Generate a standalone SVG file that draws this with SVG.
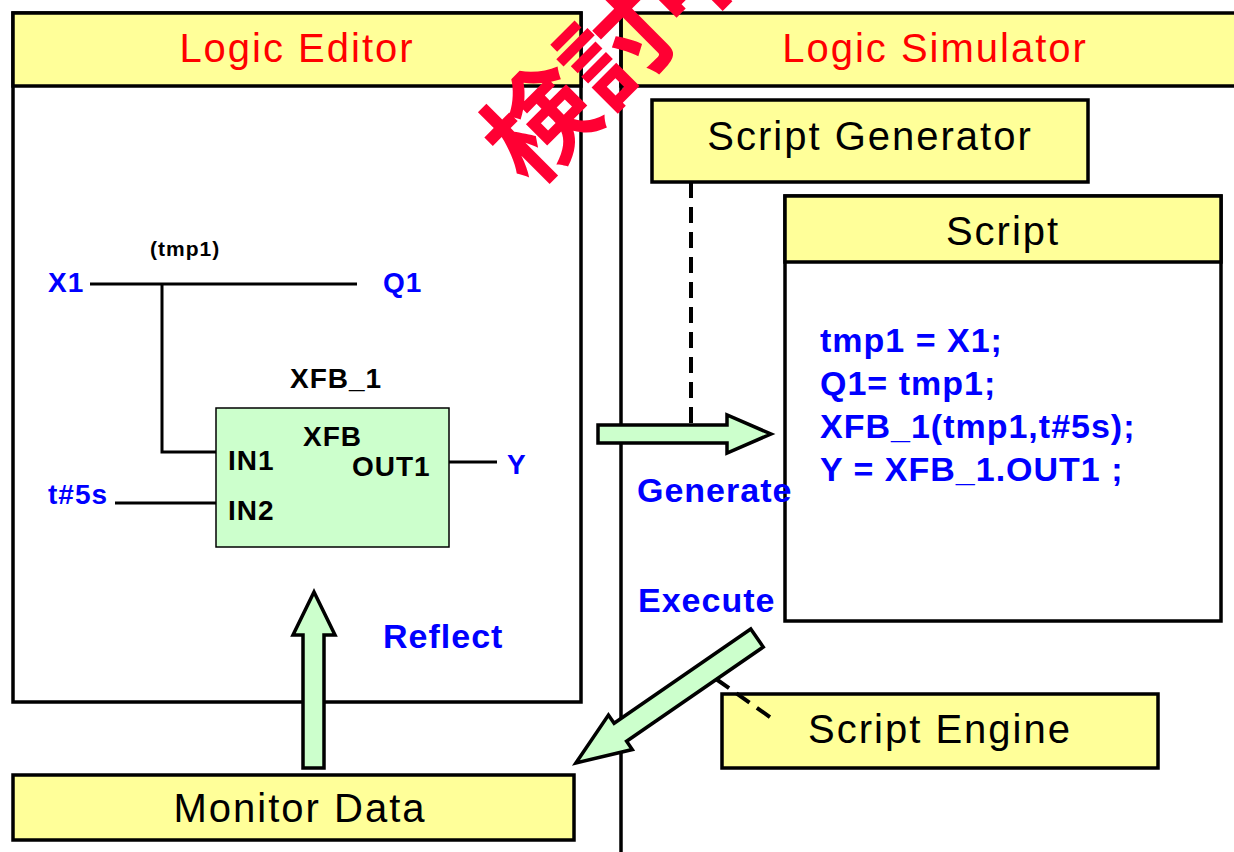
<svg xmlns="http://www.w3.org/2000/svg" width="1234" height="852" viewBox="0 0 1234 852">
<style>
.title{font-family:"Liberation Sans",Arial,sans-serif;font-size:40px;letter-spacing:2px;text-anchor:middle}
.red{fill:#ff0000}
.blk{fill:#000}
.blue{font-family:"Liberation Sans",Arial,sans-serif;font-size:34px;font-weight:bold;letter-spacing:1px;fill:#0000ff}
.lbl{font-family:"Liberation Sans",Arial,sans-serif;font-size:28px;font-weight:bold;letter-spacing:1px}
.box{fill:#ffff99;stroke:#000;stroke-width:3.5}
.frame{fill:#fff;stroke:#000;stroke-width:3.5}
.wire{stroke:#000;stroke-width:3;fill:none}
.arrow{fill:#ccffcc;stroke:#000;stroke-width:3.5;stroke-linejoin:miter}
.dash{stroke:#000;stroke-width:4;stroke-dasharray:16 9;fill:none}
.wm{font-family:"Noto Sans CJK JP","Noto Sans CJK SC",sans-serif;font-size:108px;font-weight:bold;fill:#ff0033}
</style>

<g id="logic-editor">
  <rect class="frame" x="13" y="13" width="568" height="689"/>
  <rect class="box" x="13" y="13" width="568" height="73"/>
  <text class="title red" x="297" y="62">Logic Editor</text>
</g>

<g id="logic-simulator">
  <rect class="box" x="621" y="13" width="640" height="73"/>
  <line x1="621" y1="13" x2="621" y2="852" stroke="#000" stroke-width="3.5"/>
  <text class="title red" x="935" y="62">Logic Simulator</text>
</g>

<g id="ladder">
  <text class="lbl" x="150" y="256" style="font-size:21px">(tmp1)</text>
  <text class="lbl" x="48" y="292" fill="#0000ff">X1</text>
  <text class="lbl" x="383" y="292" fill="#0000ff">Q1</text>
  <text class="lbl" x="48" y="504" fill="#0000ff">t#5s</text>
  <text class="lbl" x="507" y="474" fill="#0000ff">Y</text>
  <line class="wire" x1="90" y1="284" x2="357" y2="284"/>
  <polyline class="wire" points="162,284 162,452 216,452"/>
  <line class="wire" x1="115" y1="503" x2="216" y2="503"/>
  <line class="wire" x1="449" y1="462" x2="497" y2="462"/>
</g>

<g id="xfb-block">
  <text class="lbl" x="290" y="388">XFB_1</text>
  <rect x="216" y="408" width="233" height="139" fill="#ccffcc" stroke="#000" stroke-width="1.5"/>
  <text class="lbl" x="303" y="446">XFB</text>
  <text class="lbl" x="228" y="470">IN1</text>
  <text class="lbl" x="352" y="476">OUT1</text>
  <text class="lbl" x="228" y="520">IN2</text>
</g>

<g id="script-generator">
  <rect class="box" x="652" y="100" width="436" height="82"/>
  <text class="title blk" x="870" y="150">Script Generator</text>
</g>

<g id="script">
  <rect class="frame" x="785" y="196" width="436" height="425"/>
  <rect class="box" x="785" y="196" width="436" height="66"/>
  <text class="title blk" x="1003" y="245">Script</text>
  <text class="blue" x="820" y="352">tmp1 = X1;</text>
  <text class="blue" x="820" y="395">Q1= tmp1;</text>
  <text class="blue" x="820" y="438">XFB_1(tmp1,t#5s);</text>
  <text class="blue" x="820" y="481">Y = XFB_1.OUT1 ;</text>
</g>

<g id="script-engine">
  <rect class="box" x="722" y="694" width="436" height="74"/>
  <text class="title blk" x="940" y="743">Script Engine</text>
</g>

<g id="monitor-data">
  <rect class="box" x="13" y="775" width="561" height="65"/>
  <text class="title blk" x="300" y="822">Monitor Data</text>
</g>

<g id="connectors">
  <line class="dash" x1="691" y1="182" x2="691" y2="425"/>
  <polygon class="arrow" points="598,425 727,425 727,415 771,434 727,453 727,443 598,443"/>
  <text class="blue" x="637" y="502">Generate</text>
  <g transform="translate(757,638) rotate(145.4)">
    <polygon class="arrow" points="0,-11 166,-11 166,-21 220,0 166,21 166,11 0,11"/>
  </g>
  <line class="dash" x1="716" y1="679" x2="777" y2="722" stroke-dasharray="14 10"/>
  <text class="blue" x="638" y="612">Execute</text>
  <polygon class="arrow" points="303,768 303,635 293,635 314,592 335,635 324,635 324,768"/>
  <text class="blue" x="383" y="648">Reflect</text>
</g>

<g id="watermark">
  <text class="wm" transform="translate(530,190) rotate(-45)">検討中</text>
</g>
</svg>
